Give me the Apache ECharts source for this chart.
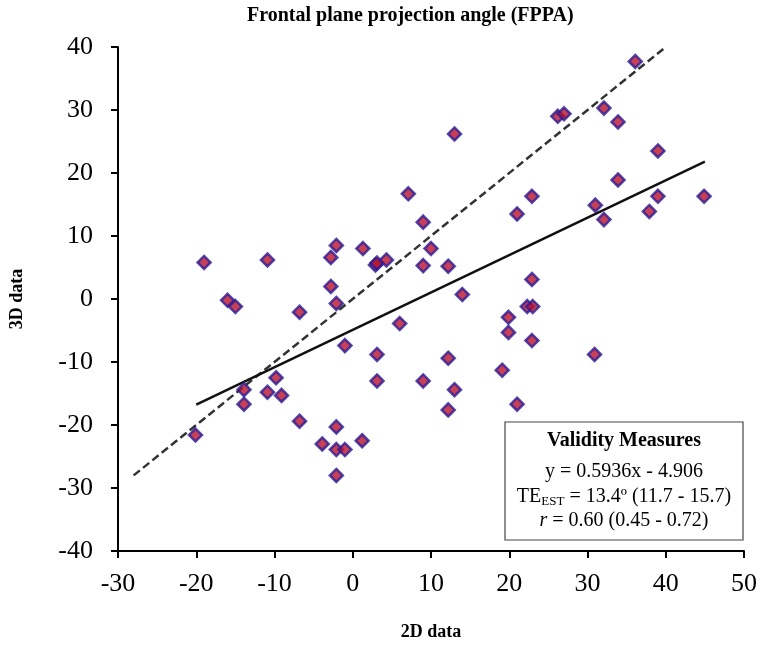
<!DOCTYPE html>
<html>
<head>
<meta charset="utf-8">
<script src="https://cdn.jsdelivr.net/npm/echarts@6/dist/echarts.min.js"></script>
<style>html,body{margin:0;padding:0;background:#fff}#c{width:760px;height:646px}</style>
</head>
<body>
<div id="c"></div>
<script>
var xTicks = [-30, -20, -10, 0, 10, 20, 30, 40, 50];
var yTicks = [-40, -30, -20, -10, 0, 10, 20, 30, 40];
var points = [
  [-19, 5.8], [-16, -0.2], [-15, -1.2], [-10.9, 6.2], [-6.8, -2.1],
  [-13.9, -14.4], [-13.9, -16.7], [-9.8, -12.5], [-10.9, -14.8], [-9.1, -15.3],
  [-6.8, -19.4], [-20.1, -21.6], [-3.9, -23.0],
  [-2.1, -20.3], [-2.1, -23.9], [-1.0, -23.9], [-2.1, -28.0], [1.2, -22.5],
  [-2.8, 6.6], [-2.1, 8.5], [1.3, 8.0], [2.9, 5.4], [3.1, 5.7], [4.3, 6.2],
  [-2.8, 2.0], [-2.1, -0.7], [-1.0, -7.4], [3.1, -8.8],
  [3.1, -13.0], [9.0, -13.0], [6.0, -3.9],
  [7.1, 16.7], [9.0, 12.2], [9.0, 5.3], [10.0, 8.0], [12.2, 5.2],
  [13.0, 26.2], [14.0, 0.7], [12.2, -9.4], [13.0, -14.4], [12.2, -17.6],
  [19.1, -11.3], [21.0, -16.7], [19.9, -2.9], [19.9, -5.3],
  [22.3, -1.2], [23.0, -1.2], [22.9, 3.1], [22.9, -6.6],
  [21.0, 13.5], [22.9, 16.3],
  [26.2, 29.0], [27.0, 29.4], [32.1, 30.3], [33.9, 28.1], [36.1, 37.7],
  [39.0, 23.5], [33.9, 18.9], [31.0, 14.9], [32.1, 12.6],
  [39.0, 16.3], [37.9, 13.9], [44.9, 16.3], [30.9, -8.8]
];
var fitLine = [[-20, -16.78], [45, 21.8]];
var identityLine = [[-28, -28], [40, 40]];
var titleText = 'Frontal plane projection angle (FPPA)';
var xName = '2D data';
var yName = '3D data';

var serif = '"Liberation Serif", "DejaVu Serif", serif';
var chart = echarts.init(document.getElementById('c'));
chart.setOption({
  animation: false,
  backgroundColor: '#fff',
  title: {
    text: titleText, left: 242, top: 1,
    textStyle: {fontFamily: serif, fontWeight: 'bold', fontSize: 20, color: '#000'}
  },
  grid: {left: 118, right: 16, top: 47, bottom: 95, outerBoundsMode: 'none', containLabel: false},
  xAxis: {
    type: 'value', min: -30, max: 50, interval: 10,
    axisLine: {onZero: false, lineStyle: {color: '#000', width: 2}},
    axisTick: {show: true, length: 7, lineStyle: {color: '#000', width: 2}},
    axisLabel: {fontFamily: serif, fontSize: 26, color: '#000', margin: 20},
    splitLine: {show: false},
    name: xName, nameLocation: 'middle', nameGap: 72,
    nameTextStyle: {fontFamily: serif, fontWeight: 'bold', fontSize: 18, color: '#000'}
  },
  yAxis: {
    type: 'value', min: -40, max: 40, interval: 10,
    axisLine: {show: true, onZero: false, lineStyle: {color: '#000', width: 2}},
    axisTick: {show: true, length: 7, lineStyle: {color: '#000', width: 2}},
    axisLabel: {fontFamily: serif, fontSize: 26, color: '#000', margin: 25},
    splitLine: {show: false},
    name: yName, nameLocation: 'middle', nameGap: 92, nameRotate: 90,
    nameTextStyle: {fontFamily: serif, fontWeight: 'bold', fontSize: 18, color: '#000'}
  },
  series: [
    {type: 'line', data: identityLine, symbol: 'none', silent: true,
     lineStyle: {color: '#333', width: 2.5, type: [8, 4]}, z: 1},
    {type: 'line', data: fitLine, symbol: 'none', silent: true,
     lineStyle: {color: '#111', width: 2.5}, z: 1},
    {type: 'scatter', data: points, symbol: 'diamond', symbolSize: 13,
     itemStyle: {color: '#b8102e', borderColor: '#2a1c96', borderWidth: 2.5}, z: 3}
  ],
  graphic: [
    {type: 'rect', shape: {x: 505, y: 422, width: 238, height: 118},
     style: {fill: '#fff', stroke: '#444', lineWidth: 1.2}, z: 10},
    {type: 'text', x: 624, y: 441, z: 11,
     style: {text: 'Validity Measures', fontFamily: serif, fontWeight: 'bold', fontSize: 20,
       fill: '#000', align: 'center', verticalAlign: 'middle'}},
    {type: 'text', x: 624, y: 472, z: 11,
     style: {text: 'y = 0.5936x - 4.906', fontFamily: serif, fontSize: 20,
       fill: '#000', align: 'center', verticalAlign: 'middle'}},
    {type: 'text', x: 624, y: 497, z: 11,
     style: {text: '{n|TE}{s|EST}{n| = 13.4º (11.7 - 15.7)}', align: 'center', verticalAlign: 'middle',
       rich: {n: {fontFamily: serif, fontSize: 20, color: '#000'},
              s: {fontFamily: serif, fontSize: 13, color: '#000', padding: [9, 0, 0, 0]}}}},
    {type: 'text', x: 624, y: 521, z: 11,
     style: {text: '{i|r}{n| = 0.60 (0.45 - 0.72)}', align: 'center', verticalAlign: 'middle',
       rich: {n: {fontFamily: serif, fontSize: 20, color: '#000'},
              i: {fontFamily: serif, fontSize: 20, fontStyle: 'italic', color: '#000'}}}}
  ]
});
</script>
</body>
</html>
